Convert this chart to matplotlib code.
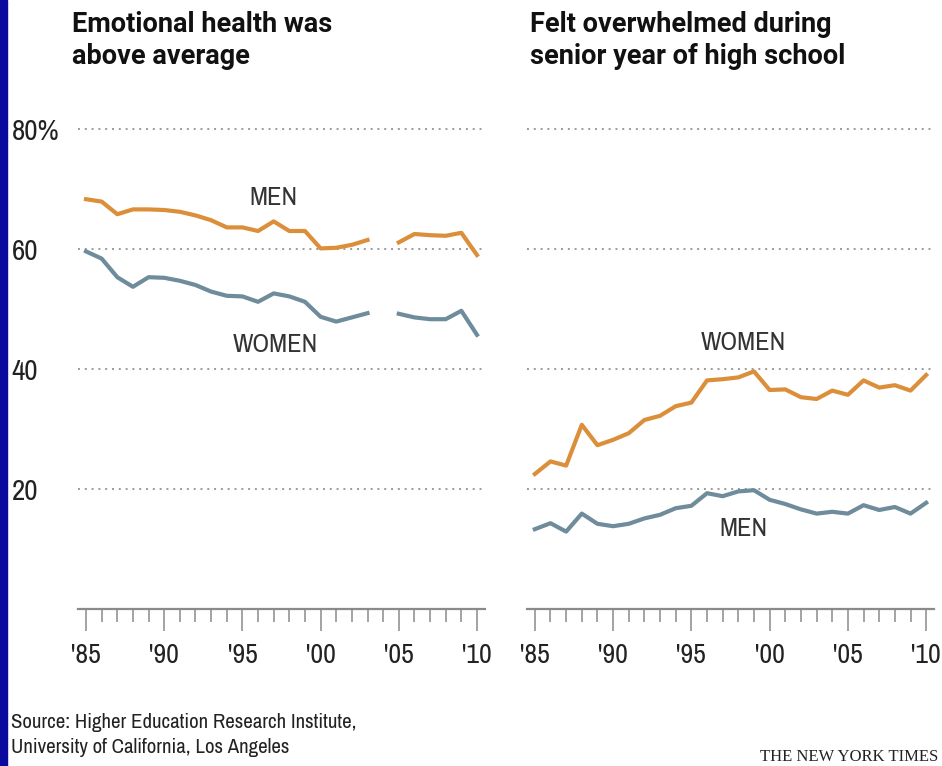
import matplotlib
matplotlib.use('Agg')
import matplotlib.pyplot as plt
from matplotlib.patches import Rectangle
import numpy as np

# data (percent); None = no survey value
years = list(range(1985, 2011))

health_men = [68.3, 67.9, 65.8, 66.6, 66.6, 66.5, 66.2, 65.6, 64.8, 63.6, 63.6, 63.0,
              64.6, 63.0, 63.0, 60.1, 60.2, 60.7, 61.5, None, 61.1, 62.5, 62.3, 62.2,
              62.7, 59.0]
health_women = [59.6, 58.4, 55.3, 53.7, 55.3, 55.2, 54.7, 54.0, 52.9, 52.2, 52.1, 51.2,
                52.6, 52.1, 51.2, 48.7, 47.9, 48.6, 49.3, None, 49.2, 48.6, 48.3, 48.3,
                49.7, 45.7]

overwhelmed_women = [22.5, 24.6, 23.9, 30.7, 27.3, 28.2, 29.3, 31.5, 32.2, 33.8, 34.4,
                     38.1, 38.3, 38.6, 39.6, 36.5, 36.6, 35.3, 35.0, 36.4, 35.7, 38.1,
                     36.9, 37.3, 36.4, 39.0]
overwhelmed_men = [13.3, 14.3, 12.9, 15.9, 14.2, 13.8, 14.2, 15.1, 15.7, 16.8, 17.2, 19.3,
                   18.8, 19.6, 19.8, 18.2, 17.5, 16.6, 15.9, 16.2, 15.9, 17.3, 16.5, 17.0,
                   15.9, 17.7]

yticks = [20, 40, 60, 80]
ytick_labels = ['20', '40', '60', '80%']
xticks = [1985, 1990, 1995, 2000, 2005, 2010]
xtick_labels = ["'85", "'90", "'95", "'00", "'05", "'10"]

ORANGE = '#DC8F3A'
BLUE = '#6E8C9B'
GRID = '#9a9a9a'

NARROW = ['Archivo Narrow', 'Roboto', 'DejaVu Sans']
plt.rcParams['font.family'] = NARROW


def to_arr(vals):
    return np.array([np.nan if v is None else v for v in vals], dtype=float)


W, H = 942, 766
fig = plt.figure(figsize=(W / 100, H / 100), dpi=100)
fig.patch.set_facecolor('white')

# blue strip on the left edge
fig.patches.append(Rectangle((0, 0), 7 / W, 1, transform=fig.transFigure,
                             color='#0A0A9E', zorder=0))

ax1 = fig.add_axes([78.2 / W, (H - 609) / H, 406.6 / W, 492 / H])
ax2 = fig.add_axes([527 / W, (H - 609) / H, 407 / W, 492 / H])

for ax in (ax1, ax2):
    ax.set_xlim(1984.5, 2010.5)
    ax.set_ylim(0, 82)
    for s in ('top', 'right', 'left'):
        ax.spines[s].set_visible(False)
    ax.spines['bottom'].set_color('#8a8a8a')
    ax.spines['bottom'].set_linewidth(1.6)
    for y in yticks:
        ax.axhline(y, color=GRID, linestyle=(0, (1, 2.5)), linewidth=1.4, zorder=1)
    ax.set_xticks(xticks)
    ax.set_xticklabels(xtick_labels, fontsize=20, color='#222222')
    ax.set_xticks(years, minor=True)
    ax.tick_params(axis='x', which='major', length=16, width=1.1, color='#8a8a8a', pad=8.5)
    ax.tick_params(axis='x', which='minor', length=9.5, width=1.1, color='#8a8a8a')
    ax.set_yticks(yticks)

ax1.set_yticklabels(ytick_labels, fontsize=21, color='#222222')
ax1.tick_params(axis='y', length=0, pad=48)
for lab in ax1.get_yticklabels():
    lab.set_horizontalalignment('left')
ax2.set_yticklabels([])
ax2.tick_params(axis='y', length=0)

lw = 3.0
ax1.plot(years, to_arr(health_men), color=ORANGE, lw=lw, solid_joinstyle='round', zorder=3)
ax1.plot(years, to_arr(health_women), color=BLUE, lw=lw, solid_joinstyle='round', zorder=3)
ax2.plot(years, overwhelmed_women, color=ORANGE, lw=lw, solid_joinstyle='round', zorder=3)
ax2.plot(years, overwhelmed_men, color=BLUE, lw=lw, solid_joinstyle='round', zorder=3)

lbl = dict(fontsize=19, color='#333333', ha='center', va='center')
ax1.text(1997.0, 68.6, 'MEN', **lbl)
ax1.text(1997.1, 44.0, 'WOMEN', **lbl)
ax2.text(1998.3, 44.4, 'WOMEN', **lbl)
ax2.text(1998.3, 13.4, 'MEN', **lbl)

title = dict(fontsize=19.5, fontweight='bold', color='#111111', va='top', ha='left',
             linespacing=1.25, family=['Roboto', 'DejaVu Sans'])
fig.text(72 / W, 1 - 11 / H, 'Emotional health was\nabove average', **title)
fig.text(530 / W, 1 - 11 / H, 'Felt overwhelmed during\nsenior year of high school', **title)

fig.text(11 / W, 1 - 713 / H,
         'Source: Higher Education Research Institute,\nUniversity of California, Los Angeles',
         fontsize=15, color='#222222', va='top', ha='left', linespacing=1.4)
fig.text(938 / W, 1 - 761 / H, 'THE NEW YORK TIMES', fontsize=12, color='#222222',
         family=['Liberation Serif', 'DejaVu Serif'], ha='right', va='baseline')

fig.savefig('out.png', dpi=100, facecolor='white')
